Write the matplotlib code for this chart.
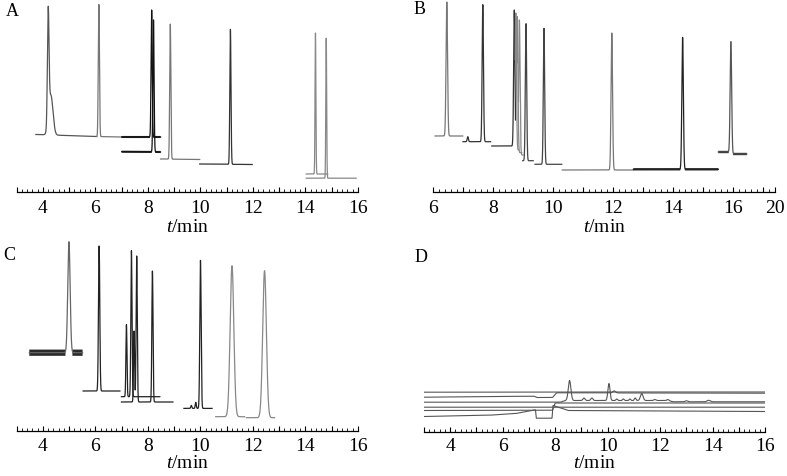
import numpy as np
import matplotlib
matplotlib.use('Agg')
import matplotlib.pyplot as plt

plt.rcParams['font.family'] = ['Liberation Serif', 'DejaVu Serif']
plt.rcParams['mathtext.fontset'] = 'custom'
plt.rcParams['mathtext.rm'] = 'Liberation Serif'
plt.rcParams['mathtext.it'] = 'Liberation Serif:italic'

# ---- panel A: segments (start, end, baseline at start/end) and peaks (t, height, sigma)
a_start = [3.73, 6.05, 7.00, 7.00, 8.48, 9.97, 14.03, 14.03]
a_end = [6.05, 7.00, 8.48, 8.48, 9.97, 11.97, 14.85, 15.93]
a_base0 = [57.5, 55.5, 55.0, 40.3, 33.0, 28.0, 18.0, 13.8]
a_base1 = [55.5, 55.0, 55.0, 40.0, 32.5, 27.5, 18.0, 13.8]
a_peaks = [
    [(4.20, 110, 0.03), (4.30, 40, 0.08)],
    [(6.13, 132, 0.022)],
    [(8.14, 127, 0.022)],
    [(8.21, 132, 0.022)],
    [(8.85, 135, 0.022)],
    [(11.14, 135, 0.022)],
    [(14.38, 141, 0.016)],
    [(14.79, 140, 0.016)],
]

# ---- panel B
b_start = [6.07, 7.00, 7.96, 8.74, 8.79, 8.85, 8.99, 9.40, 10.31, 12.68, 15.51, 15.93]
b_end = [6.99, 7.92, 8.75, 8.86, 8.96, 9.00, 9.34, 10.29, 12.68, 15.51, 15.93, 16.46]
b_base0 = [56.0, 50.3, 46.0, 42.0, 39.3, 37.0, 31.3, 27.7, 22.0, 22.7, 40.0, 38.0]
b_base1 = [56.0, 50.3, 46.0, 42.0, 39.3, 37.0, 31.3, 27.7, 22.0, 22.7, 40.0, 38.0]
b_peaks = [
    [(6.46, 134, 0.025)],
    [(7.16, 5, 0.02), (7.66, 137, 0.022)],
    [(8.71, 136, 0.022)],
    [(8.76, 137, 0.022)],
    [(8.81, 136, 0.022)],
    [(8.88, 135, 0.022)],
    [(9.10, 137, 0.022)],
    [(9.70, 136, 0.022)],
    [(11.96, 137, 0.025)],
    [(14.32, 132, 0.025)],
    [(15.93, 110, 0.025)],
    [(15.93, 112, 0.025)],
]

# ---- panel C
c_start = [3.48, 5.53, 6.99, 6.99, 9.37, 10.58, 11.75]
c_end = [5.51, 6.93, 8.45, 8.95, 10.44, 11.68, 12.82]
c_base0 = [78.3, 40.0, 34.3, 29.0, 22.6, 14.3, 13.3]
c_base1 = [78.3, 40.0, 34.3, 29.0, 22.6, 14.3, 13.3]
c_peaks = [
    [(4.99, 111, 0.045)],
    [(6.14, 145, 0.025)],
    [(7.18, 72, 0.02), (7.37, 146, 0.022)],
    [(7.47, 71, 0.02), (7.57, 146, 0.022), (8.17, 131, 0.022)],
    [(9.65, 3, 0.02), (9.82, 6, 0.02), (10.00, 148, 0.025)],
    [(11.20, 151, 0.07)],
    [(12.44, 147, 0.07)],
]

# ---- panel D: baselines as breakpoints, plus small peaks
d_base_t = [
    [3, 8, 16],
    [3, 5.5, 7.2, 7.3, 7.9, 8.05, 16],
    [3, 8.2, 8.4, 12.3, 12.5, 16],
    [3, 16],
    [3, 7.9, 8.0, 16],
    [3, 5.5, 6.5, 7.25, 7.28, 7.88, 7.92, 8.5, 16],
]
d_base_h = [
    [39.3, 39.5, 39.5],
    [34.3, 35.0, 35.3, 34.0, 34.0, 38.7, 38.3],
    [29.3, 29.3, 31.0, 31.0, 29.7, 29.7],
    [24.3, 24.3],
    [21.0, 21.3, 28.5, 28.5],
    [15.0, 16.3, 18.0, 21.7, 13.3, 13.3, 26.0, 21.0, 20.0],
]
d_peaks = [
    [],
    [(10.25, 2, 0.05)],
    [(8.55, 20, 0.05), (9.10, 2.5, 0.04), (9.40, 2.5, 0.04), (10.05, 17, 0.04),
     (10.35, 1.5, 0.03), (10.60, 1.5, 0.03), (10.85, 1.5, 0.03), (11.05, 2.5, 0.03),
     (11.30, 7, 0.05), (11.80, 1, 0.04), (12.30, 1, 0.04), (13.00, 1, 0.05),
     (13.85, 1.5, 0.06)],
    [],
    [],
    [],
]

a_ticks = list(range(3, 17))
b_ticks = list(range(6, 18)) + [17.4]
b_labels = ['6', '', '8', '', '10', '', '12', '', '14', '', '16', '', '20']

# styles
a_color = ['#555555', '#777777', '#111111', '#111111', '#777777', '#333333', '#888888', '#888888']
a_noisy = [0, 0, 1.5, 1.5, 0, 0, 0, 0]
b_color = ['#777777', '#333333', '#333333', '#888888', '#888888', '#888888', '#444444',
           '#444444', '#777777', '#222222', '#555555', '#555555']
b_noisy = [0, 0, 0, 0, 0, 0, 0, 0, 0, 1.7, 1.7, 1.7]
c_color = ['#666666', '#222222', '#222222', '#222222', '#222222', '#888888', '#888888']
c_noisy = [4.5, 0, 0, 0, 0, 0, 0]


def build(t0, t1, b0, b1, peaks):
    t = np.linspace(t0, t1, 2000)
    base = b0 + (b1 - b0) * (t - t0) / (t1 - t0)
    sig = np.zeros_like(t)
    for pt, ph, pw in peaks:
        sig += ph * np.exp(-0.5 * ((t - pt) / pw) ** 2)
    return t, base, sig


def draw_segments(ax, starts, ends, b0s, b1s, peaks, colors, noisy):
    for i in range(len(starts)):
        t, base, sig = build(starts[i], ends[i], b0s[i], b1s[i], peaks[i])
        if noisy[i]:
            band = np.where(sig < 1.5, base, np.nan)
            ax.plot(t, band, color='#2a2a2a', lw=noisy[i], solid_capstyle='butt')
        ax.plot(t, base + sig, color=colors[i], lw=0.9)


def style_axis(ax, xlim, ylim, ticks, labels, xlabel_pad=1, pad=6):
    ax.set_xlim(*xlim)
    ax.set_ylim(*ylim)
    for s in ['left', 'right', 'top']:
        ax.spines[s].set_visible(False)
    ax.spines['bottom'].set_linewidth(0.9)
    ax.set_yticks([])
    ax.set_xticks(ticks)
    ax.set_xticklabels(labels)
    ax.set_xticks(np.arange(xlim[0], xlim[1] + 0.001, 0.2), minor=True)
    ax.tick_params(axis='x', which='major', direction='in', length=3.5, width=0.8,
                   pad=pad, labelsize=14)
    ax.tick_params(axis='x', which='minor', direction='in', length=2, width=0.6)
    ax.set_xlabel('$t$/min', fontsize=14, labelpad=xlabel_pad)
    ax.patch.set_visible(False)


fig = plt.figure(figsize=(7.87, 4.76), dpi=100)
W, H = 787, 476


def add_ax(x0, x1, ytop, yaxis):
    return fig.add_axes([x0 / W, (H - yaxis) / H, (x1 - x0) / W, (yaxis - ytop) / H])


axA = add_ax(16.7, 358, 0, 192)
axB = add_ax(433, 775, 0, 192)
axC = add_ax(16.7, 358, 240, 431)
axD = add_ax(424, 765, 240, 431.5)

draw_segments(axA, a_start, a_end, a_base0, a_base1, a_peaks, a_color, a_noisy)
draw_segments(axB, b_start, b_end, b_base0, b_base1, b_peaks, b_color, b_noisy)
draw_segments(axC, c_start, c_end, c_base0, c_base1, c_peaks, c_color, c_noisy)

for bt, bh, pk in zip(d_base_t, d_base_h, d_peaks):
    t = np.linspace(3, 16, 3000)
    y = np.interp(t, bt, bh)
    for pt, ph, pw in pk:
        y = y + ph * np.exp(-0.5 * ((t - pt) / pw) ** 2)
    axD.plot(t, y, color='#555555', lw=0.8)

even_labels = [str(v) if v % 2 == 0 else '' for v in a_ticks]
style_axis(axA, (3, 16), (0, 192), a_ticks, even_labels)
style_axis(axB, (6, 17.4), (0, 192), b_ticks, b_labels)
style_axis(axC, (3, 16), (0, 191), a_ticks, even_labels, xlabel_pad=0, pad=5)
style_axis(axD, (3, 16), (0, 191.5), a_ticks, even_labels, xlabel_pad=0, pad=5)

for letter, x, y in [('A', 12, 11), ('B', 420, 9), ('C', 9, 256), ('D', 421, 257)]:
    fig.text(x / W, 1 - y / H, letter, fontsize=13, ha='center', va='center')

fig.savefig('out.png', dpi=100)
